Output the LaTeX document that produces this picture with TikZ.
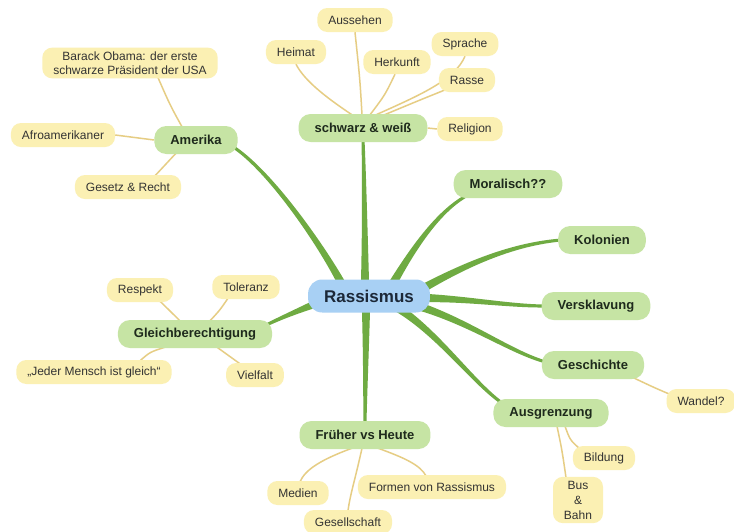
\documentclass[tikz,border=0pt]{standalone}
\usepackage{fontspec}
\setmainfont{Liberation Sans}
\usetikzlibrary{calc,backgrounds}
\definecolor{leaffill}{HTML}{FBF0B3}
\definecolor{topicfill}{HTML}{C6E4A4}
\definecolor{rootfill}{HTML}{A8D0F4}
\definecolor{brcol}{HTML}{6FAB42}
\definecolor{lfline}{HTML}{E6CD84}
\definecolor{leaftext}{HTML}{333333}
\definecolor{topictext}{HTML}{1E2A1C}
\definecolor{roottext}{HTML}{1C2838}
\tikzset{
 leaf/.style={fill=leaffill, rounded corners=10pt, inner xsep=11pt, inner ysep=3pt, minimum height=24pt, font=\fontsize{12}{14}\selectfont, text=leaftext},
 topic/.style={fill=topicfill, rounded corners=12pt, inner xsep=16pt, minimum height=28pt, font=\fontsize{13}{15}\selectfont\bfseries, text=topictext},
 rootbox/.style={fill=rootfill, rounded corners=14pt, inner xsep=16pt, minimum height=33pt, font=\fontsize{17}{20}\selectfont\bfseries, text=roottext},
 twig/.style={draw=lfline, line width=1.5pt},
}
\newcommand\taperbranch[5]{\fill[brcol] ($(#1)!#5!90:#2$) .. controls ($#2!2.6pt!90:(#4)$) and ($#3!1.9pt!-90:(#1)$) .. ($(#4)!1.5pt!-90:#3$) -- ($(#4)!1.5pt!90:#3$) .. controls ($#3!1.9pt!90:(#1)$) and ($#2!2.6pt!-90:(#4)$) .. ($(#1)!#5!-90:#2$) -- cycle;}
\begin{document}
\begin{tikzpicture}[x=1pt,y=-1pt]
\useasboundingbox (0,0) rectangle (734,531);
% root and topics
\node[rootbox] (root) at (369,296) {Rassismus};
\node[topic] (amerika) at (196,140) {Amerika};
\node[topic] (sw) at (363,128) {schwarz \& weiß};
\node[topic] (moral) at (508,184) {Moralisch??};
\node[topic] (kolon) at (602,240) {Kolonien};
\node[topic] (versk) at (596,306) {Versklavung};
\node[topic] (gesch) at (593,365) {Geschichte};
\node[topic] (ausgr) at (551,413) {Ausgrenzung};
\node[topic] (frueh) at (365,435) {Früher vs Heute};
\node[topic] (gleich) at (195,334) {Gleichberechtigung};
% leaves
\node[leaf, align=center, inner ysep=4pt] (obama) at (130,63) {Barack Obama: der erste\\schwarze Präsident der USA};
\node[leaf] (afro) at (63,135) {Afroamerikaner};
\node[leaf] (gesetz) at (128,187) {Gesetz \& Recht};
\node[leaf] (aussehen) at (355,20) {Aussehen};
\node[leaf] (heimat) at (296,52) {Heimat};
\node[leaf] (herkunft) at (397,62) {Herkunft};
\node[leaf] (sprache) at (465,44) {Sprache};
\node[leaf] (rasse) at (467,80) {Rasse};
\node[leaf] (religion) at (470,129) {Religion};
\node[leaf] (respekt) at (140,290) {Respekt};
\node[leaf] (toleranz) at (246,287) {Toleranz};
\node[leaf] (jeder) at (94,372) {„Jeder Mensch ist gleich“};
\node[leaf] (vielfalt) at (255,375) {Vielfalt};
\node[leaf] (medien) at (298,493) {Medien};
\node[leaf] (gesell) at (348,522) {Gesellschaft};
\node[leaf] (formen) at (432,487) {Formen von Rassismus};
\node[leaf] (wandel) at (701,401) {Wandel?};
\node[leaf] (bildung) at (604,458) {Bildung};
\node[leaf, align=center, inner xsep=8pt, inner ysep=4pt, minimum width=50pt, font=\fontsize{12}{15}\selectfont] (busbahn) at (578,500) {Bus\\\&\\Bahn};
% anchor coordinates for branches
\coordinate (sA) at ($(root.center)+(-4,-8)$);
\coordinate (eA) at ($(sw.south)+(0,-3)$);
\coordinate (sB) at ($(root.center)+(-3,9)$);
\coordinate (eB) at ($(frueh.north)+(0,3)$);
\coordinate (sC) at ($(root.center)+(-24,-6)$);
\coordinate (eC) at ($(amerika.east)+(-6,6)$);
\coordinate (sD) at ($(root.center)+(-49,6)$);
\coordinate (eD) at ($(gleich.east)+(-6,-9)$);
\coordinate (sE) at ($(root.center)+(23,-11)$);
\coordinate (eE) at ($(moral.south west)+(14,-3)$);
\coordinate (sF) at ($(root.center)+(51,-6)$);
\coordinate (eF) at ($(kolon.west)+(3,0)$);
\coordinate (sG) at ($(root.center)+(56,2)$);
\coordinate (eG) at ($(versk.west)+(3,0)$);
\coordinate (sH) at ($(root.center)+(46,9)$);
\coordinate (eH) at ($(gesch.west)+(4,-3)$);
\coordinate (sI) at ($(root.center)+(29,12)$);
\coordinate (eI) at ($(ausgr.north west)+(10,5)$);
\begin{pgfonlayer}{background}
\fill[white] (0,0) rectangle (734,531);
% main branches
\taperbranch{sA}{(365,230)}{(364,170)}{eA}{4.2pt}
\taperbranch{sB}{(366,360)}{(365,400)}{eB}{4.2pt}
\taperbranch{sC}{(325,250)}{(270,170)}{eC}{4.2pt}
\taperbranch{sD}{(300,310)}{(285,316)}{eD}{4.2pt}
\taperbranch{sE}{(415,245)}{(440,210)}{eE}{4.2pt}
\taperbranch{sF}{(470,262)}{(515,244)}{eF}{4.2pt}
\taperbranch{sG}{(470,299)}{(510,306)}{eG}{4.2pt}
\taperbranch{sH}{(470,322)}{(510,352)}{eH}{4.2pt}
\taperbranch{sI}{(440,335)}{(475,385)}{eI}{4.2pt}
% twigs
\draw[twig] ($(sw.north)+(-11,1)$) .. controls (330,100) and (305,82) .. (heimat.south);
\draw[twig] ($(sw.north)+(-1,1)$) .. controls (360,80) .. (aussehen.south);
\draw[twig] ($(sw.north)+(7,1)$) .. controls (385,95) .. ($(herkunft.south)+(-2,0)$);
\draw[twig] ($(sw.north)+(13,1)$) .. controls (420,95) and (455,80) .. (sprache.south);
\draw[twig] ($(sw.north)+(19,2)$) .. controls (420,100) .. ($(rasse.south west)+(8,-3)$);
\draw[twig] (sw.east) -- (religion.west);
\draw[twig] ($(amerika.north)+(-14,1)$) .. controls (170,105) .. ($(obama.south)+(28,-1)$);
\draw[twig] (amerika.west) .. controls (135,137) .. (afro.east);
\draw[twig] ($(amerika.south)+(-20,-1)$) .. controls (165,165) .. ($(gesetz.north)+(27,1)$);
\draw[twig] ($(gleich.north)+(-15,1)$) .. controls (170,310) .. ($(respekt.south)+(20,-1)$);
\draw[twig] ($(gleich.north)+(15,1)$) .. controls (220,310) .. ($(toleranz.south)+(-18,-1)$);
\draw[twig] ($(gleich.south)+(-30,-1)$) .. controls (150,352) .. ($(jeder.north)+(46,1)$);
\draw[twig] ($(gleich.south)+(22,-1)$) .. controls (228,355) .. ($(vielfalt.north)+(-15,1)$);
\draw[twig] ($(frueh.south)+(-13,-1)$) .. controls (320,460) and (305,470) .. ($(medien.north)+(2,1)$);
\draw[twig] ($(frueh.south)+(-3,-1)$) .. controls (355,480) and (350,495) .. ($(gesell.north)+(0,1)$);
\draw[twig] ($(frueh.south)+(13,-1)$) .. controls (405,458) and (420,465) .. ($(formen.north)+(-6,1)$);
\draw[twig] ($(ausgr.south)+(14,-1)$) .. controls (570,440) .. ($(bildung.north west)+(7,3)$);
\draw[twig] ($(ausgr.south)+(6,-1)$) .. controls (562,450) .. ($(busbahn.north)+(-12,1)$);
\draw[twig] ($(gesch.south east)+(-12,-2)$) .. controls (655,388) .. ($(wandel.west)+(10,-4)$);
\end{pgfonlayer}
\end{tikzpicture}
\end{document}
